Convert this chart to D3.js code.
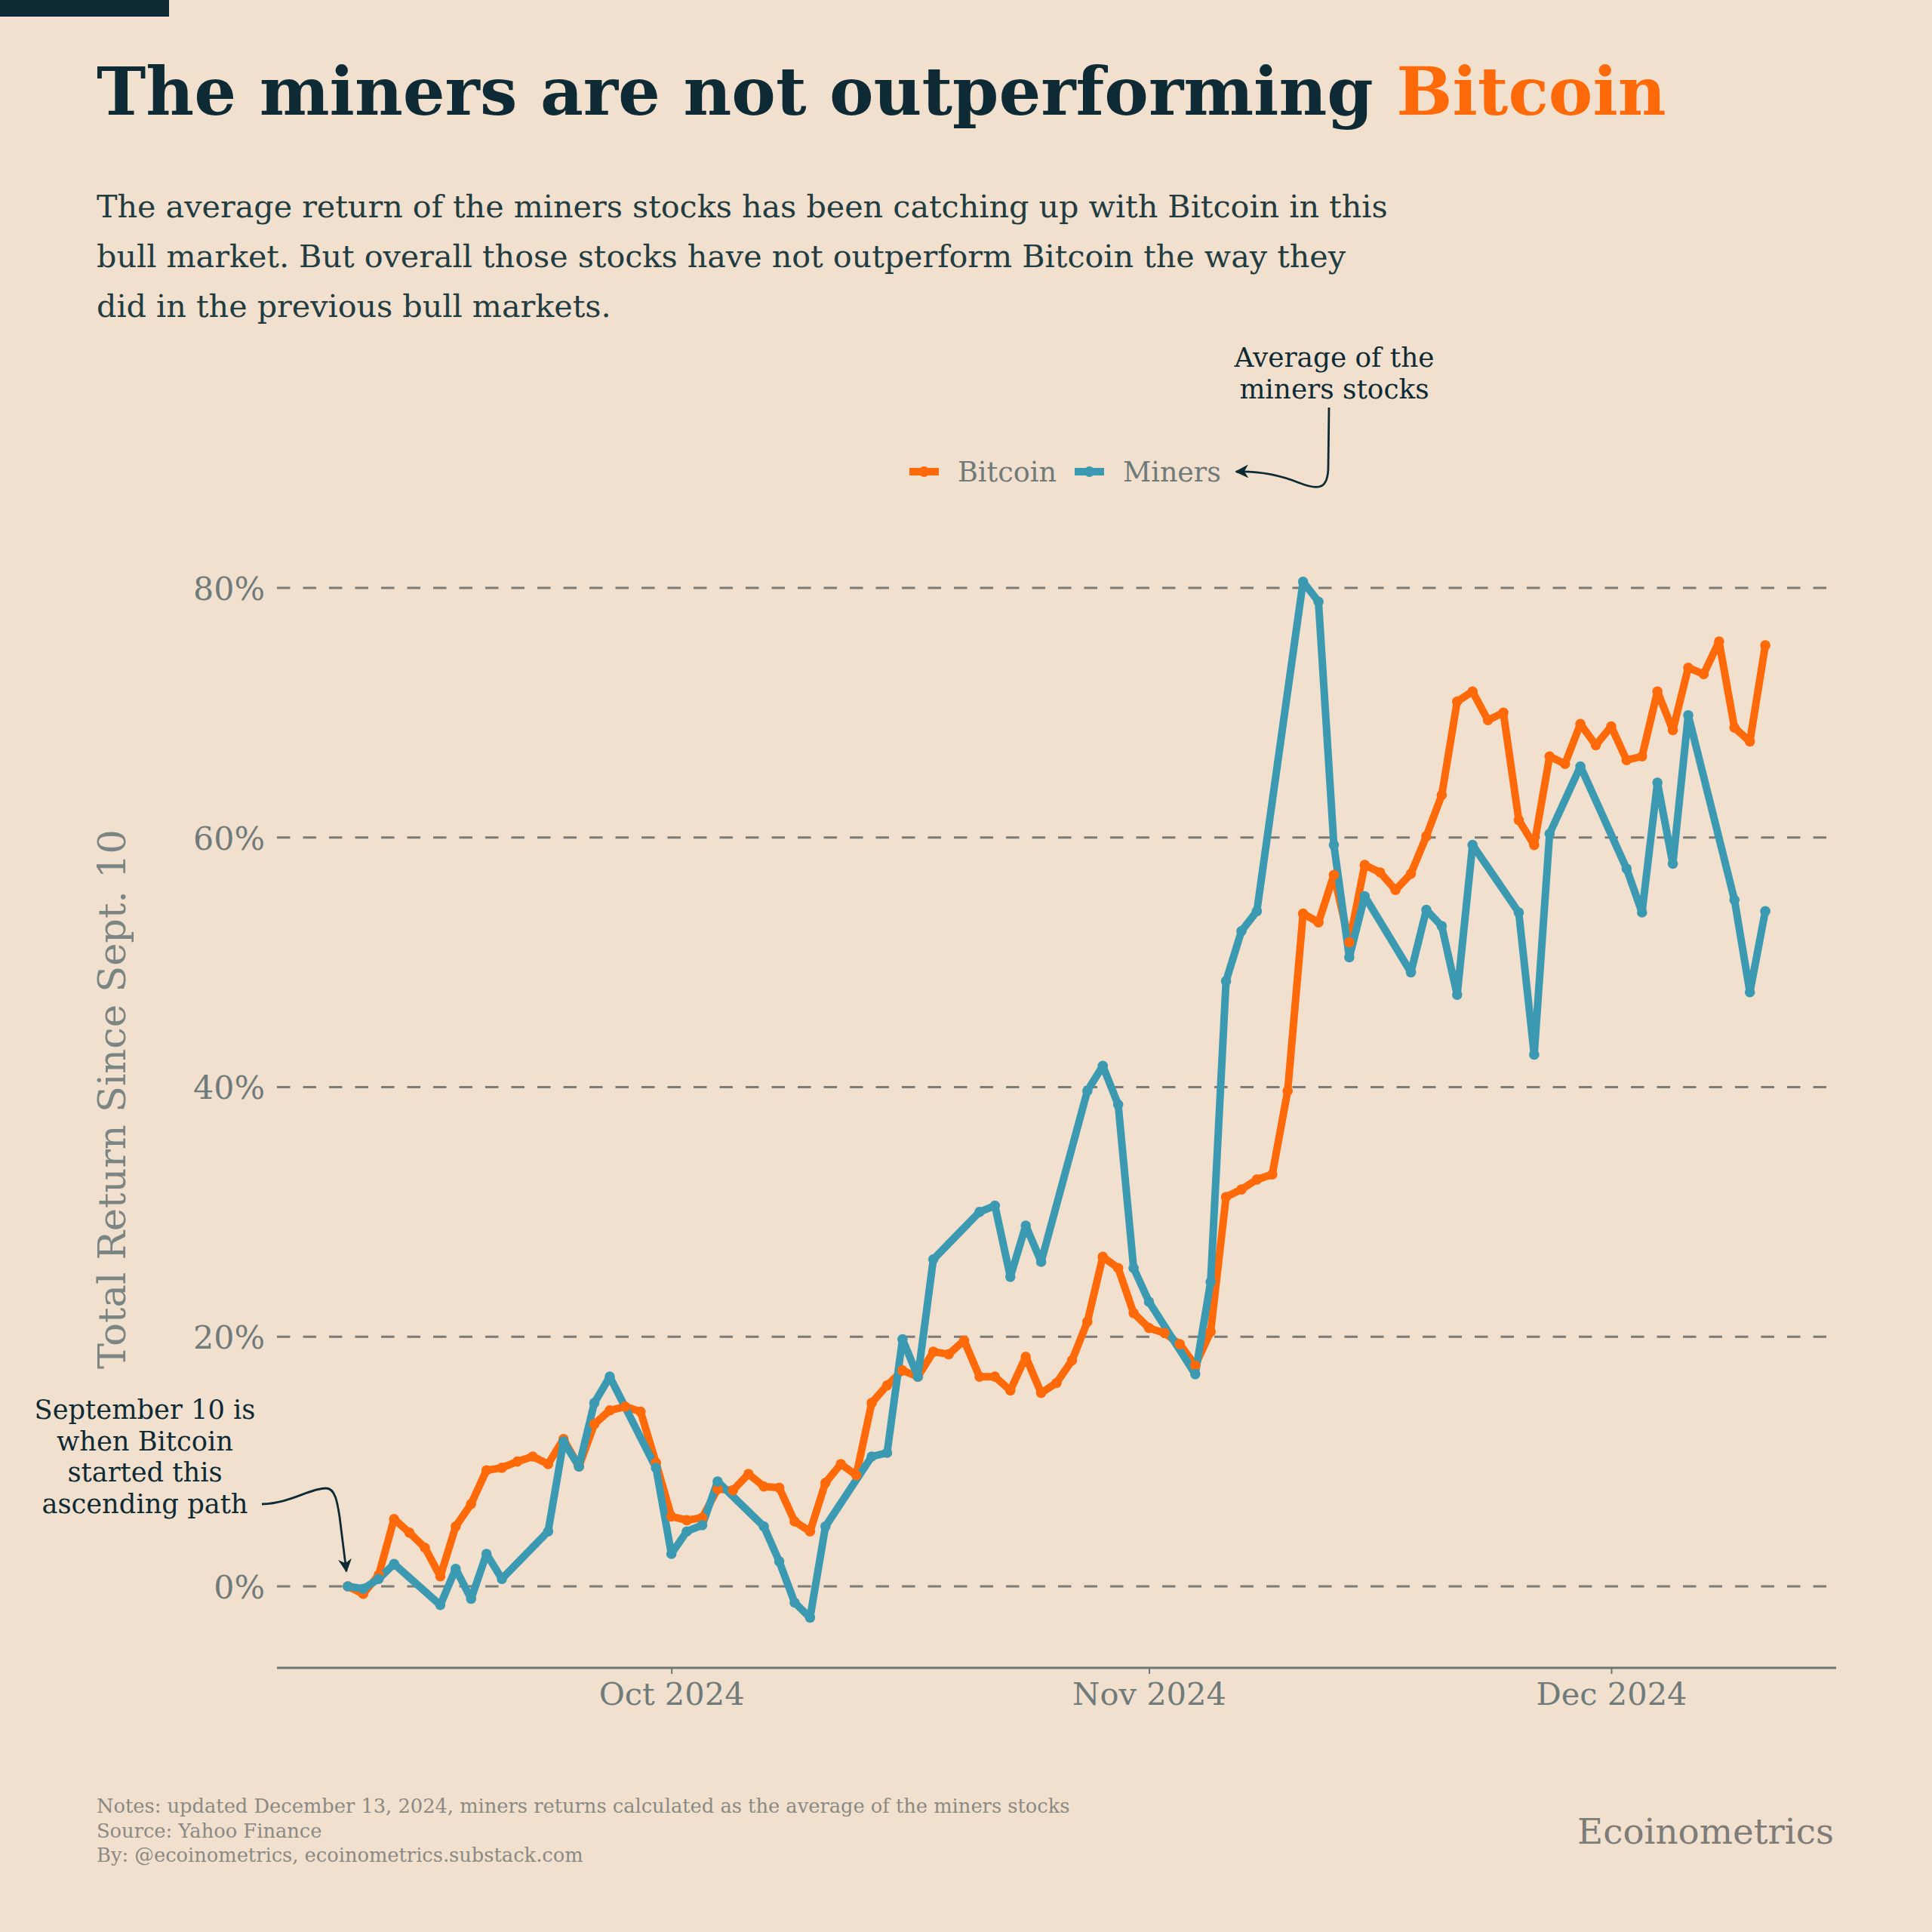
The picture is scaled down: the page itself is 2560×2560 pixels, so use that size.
<!DOCTYPE html>
<html><head><meta charset="utf-8">
<script src="https://cdn.jsdelivr.net/npm/d3@7"></script>
<style>html,body{margin:0;padding:0;background:#f2e0ce;} svg{display:block}</style>
</head><body>
<svg id="chart" width="2560" height="2560"></svg>
<script>
// ---------------- DATA ----------------
const btcStart = "2024-09-10";
const btcEnd = "2024-12-11";
const btcValues = [
  0, -0.6, 0.9, 5.4, 4.3, 3.1, 0.8, 4.8, 6.6, 9.3, 9.5, 10.0, 10.4, 9.8, 11.8, 9.6, 13.0, 14.1, 14.4, 14.0, 9.9,
  5.6, 5.3, 5.5, 7.8, 7.7, 9.0, 8.0, 7.9, 5.2, 4.4, 8.3, 9.8, 8.9, 14.7, 16.1, 17.3, 16.8, 18.8, 18.6, 19.7,
  16.8, 16.8, 15.7, 18.4, 15.5, 16.3, 18.1, 21.2, 26.4, 25.5, 21.9,
  20.7, 20.3, 19.4, 17.7, 20.4, 31.2, 31.8, 32.6, 33.0, 39.7, 53.9, 53.2, 57.0, 51.6, 57.8, 57.2, 55.8, 57.1, 60.1, 63.4,
  70.9, 71.7, 69.4, 70.0, 61.4, 59.4, 66.5, 65.9, 69.1, 67.4,
  68.9, 66.2, 66.5, 71.7, 68.6, 73.6, 73.1, 75.7, 68.8, 67.7, 75.4
];
const minersDates = [
  "2024-09-10","2024-09-11","2024-09-12","2024-09-13","2024-09-16","2024-09-17","2024-09-18","2024-09-19","2024-09-20",
  "2024-09-23","2024-09-24","2024-09-25","2024-09-26","2024-09-27","2024-09-30",
  "2024-10-01","2024-10-02","2024-10-03","2024-10-04","2024-10-07","2024-10-08","2024-10-09","2024-10-10","2024-10-11",
  "2024-10-14","2024-10-15","2024-10-16","2024-10-17","2024-10-18","2024-10-21","2024-10-22","2024-10-23","2024-10-24","2024-10-25",
  "2024-10-28","2024-10-29","2024-10-30","2024-10-31","2024-11-01",
  "2024-11-04","2024-11-05","2024-11-06","2024-11-07","2024-11-08","2024-11-11","2024-11-12","2024-11-13","2024-11-14","2024-11-15",
  "2024-11-18","2024-11-19","2024-11-20","2024-11-21","2024-11-22","2024-11-25","2024-11-26","2024-11-27","2024-11-29",
  "2024-12-02","2024-12-03","2024-12-04","2024-12-05","2024-12-06","2024-12-09","2024-12-10","2024-12-11"
];
const minersValues = [
  0, -0.2, 0.6, 1.8, -1.5, 1.4, -1.0, 2.6, 0.6,
  4.4, 11.6, 9.6, 14.7, 16.8, 9.5,
  2.6, 4.4, 4.9, 8.4, 4.8, 2.0, -1.3, -2.5, 4.8,
  10.4, 10.7, 19.8, 16.8, 26.2, 30.0, 30.5, 24.8, 28.9, 26.0,
  39.7, 41.7, 38.6, 25.5, 22.8,
  17.0, 24.4, 48.5, 52.5, 54.1, 80.5, 78.9, 59.4, 50.4, 55.3,
  49.2, 54.2, 52.9, 47.4, 59.4, 54.0, 42.6, 60.3, 65.7,
  57.5, 54.0, 64.4, 57.9, 69.8, 55.0, 47.6, 54.1
];
const yTicks = [0, 20, 40, 60, 80];
const xTickDates = ["2024-10-01", "2024-11-01", "2024-12-01"];
const xTickLabels = ["Oct 2024", "Nov 2024", "Dec 2024"];
const seriesNames = ["Bitcoin", "Miners"];
const seriesColors = ["#fe6a0a", "#3b9ab2"];

const titleText = ["The miners are not outperforming ", "Bitcoin"];
const subtitleLines = [
  "The average return of the miners stocks has been catching up with Bitcoin in this",
  "bull market. But overall those stocks have not outperform Bitcoin the way they",
  "did in the previous bull markets."
];
const yTitle = "Total Return Since Sept. 10";
const annTop = ["Average of the", "miners stocks"];
const annLeft = ["September 10 is", "when Bitcoin", "started this", "ascending path"];
const footerLines = [
  "Notes: updated December 13, 2024, miners returns calculated as the average of the miners stocks",
  "Source: Yahoo Finance",
  "By: @ecoinometrics, ecoinometrics.substack.com"
];
const brand = "Ecoinometrics";

// ---------------- SETUP ----------------
const FONT = "Georgia, 'DejaVu Serif', serif";
const DARK = "#0e2a35";
const GREY = "#6f7b7a";
const parse = d3.utcParse("%Y-%m-%d");
const svg = d3.select("#chart");
svg.append("rect").attr("width", 2560).attr("height", 2560).attr("fill", "#f2e0ce");
svg.append("rect").attr("x", 0).attr("y", 0).attr("width", 224).attr("height", 22).attr("fill", DARK);

function fit(sel, w) {
  const cur = parseFloat(sel.attr("font-size"));
  const len = sel.node().getComputedTextLength();
  const fs = cur * w / len;
  sel.attr("font-size", fs);
  return fs;
}

const btcDates = d3.utcDay.range(parse(btcStart), d3.utcDay.offset(parse(btcEnd), 1));
const btc = btcDates.map((d, i) => ({date: d, value: btcValues[i]}));
const miners = minersDates.map((d, i) => ({date: parse(d), value: minersValues[i]}));

const d0 = parse(btcStart), d1 = parse(btcEnd);
const span = d1 - d0;
const x = d3.scaleUtc()
  .domain([new Date(+d0 - span * 0.05), new Date(+d1 + span * 0.05)])
  .range([367, 2433]);
const y = d3.scaleLinear().domain([0, 80]).range([2102, 779]);
const yBottom = y(-6.53);

// ---------------- TITLE ----------------
const title = svg.append("text").attr("x", 128).attr("y", 152)
  .attr("font-family", FONT).attr("font-weight", "bold").attr("font-size", 100).attr("fill", DARK);
title.append("tspan").text(titleText[0]);
title.append("tspan").attr("fill", "#fe6a0a").text(titleText[1]);
fit(title, 2080);

const subG = svg.append("g");
const subs = subtitleLines.map((t, i) => subG.append("text")
  .attr("x", 128).attr("y", 288 + i * 66)
  .attr("font-family", FONT).attr("font-size", 44).attr("fill", "#223d42").text(t));
const subFs = fit(subs[0], 1711);
subs.forEach(s => s.attr("font-size", subFs));

// ---------------- GRID & AXES ----------------
const grid = svg.append("g");
grid.selectAll("line").data(yTicks).join("line")
  .attr("x1", 367).attr("x2", 2433)
  .attr("y1", d => y(d)).attr("y2", d => y(d))
  .attr("stroke", "#7b7b78").attr("stroke-width", 3.2)
  .attr("stroke-dasharray", "17.5,17");

const yAxis = svg.append("g").attr("transform", "translate(351,0)")
  .call(d3.axisLeft(y).tickValues(yTicks).tickSize(0).tickPadding(0).tickFormat(d => d + "%"));
yAxis.select(".domain").remove();
yAxis.selectAll("text").attr("font-family", FONT).attr("font-size", 44).attr("fill", GREY).attr("dy", "0.36em");
const yLab80 = yAxis.selectAll("text").filter(d => d === 80);
const yFs = fit(yLab80, 95);
yAxis.selectAll("text").attr("font-size", yFs);

const xAxis = svg.append("g").attr("transform", `translate(0,${yBottom})`)
  .call(d3.axisBottom(x).tickValues(xTickDates.map(parse)).tickSize(8).tickPadding(12)
    .tickFormat((d, i) => xTickLabels[i]));
xAxis.select(".domain").attr("stroke", "#6b7873").attr("stroke-width", 3)
  .attr("d", `M367,0H2433`);
xAxis.selectAll(".tick line").attr("stroke", "#6b7873").attr("stroke-width", 2);
xAxis.selectAll("text").attr("font-family", FONT).attr("font-size", 44).attr("fill", GREY).attr("dy", "0.71em");
const xFs = fit(d3.select(xAxis.selectAll("text").nodes()[0]), 193);
xAxis.selectAll("text").attr("font-size", xFs);

const yt = svg.append("text")
  .attr("transform", `translate(166,${(y(84.6) + yBottom) / 2}) rotate(-90)`)
  .attr("text-anchor", "middle").attr("font-family", FONT).attr("font-size", 50)
  .attr("fill", "#7b8583").text(yTitle);
fit(yt, 715);

// ---------------- LINES ----------------
const line = d3.line().x(d => x(d.date)).y(d => y(d.value));
const series = [btc, miners];
series.forEach((s, i) => {
  svg.append("path").datum(s).attr("d", line).attr("fill", "none")
    .attr("stroke", seriesColors[i]).attr("stroke-width", 10)
    .attr("stroke-linejoin", "round").attr("stroke-linecap", "round");
});
series.forEach((s, i) => {
  svg.append("g").selectAll("circle").data(s).join("circle")
    .attr("cx", d => x(d.date)).attr("cy", d => y(d.value)).attr("r", 6.8)
    .attr("fill", seriesColors[i]);
});

// ---------------- LEGEND ----------------
const legendX = [1205, 1424];
const leg = svg.append("g");
seriesNames.forEach((n, i) => {
  const g = leg.append("g").attr("transform", `translate(${legendX[i]},625)`);
  g.append("line").attr("x1", 0).attr("x2", 39).attr("y1", 0).attr("y2", 0)
    .attr("stroke", seriesColors[i]).attr("stroke-width", 10);
  g.append("circle").attr("cx", 19.5).attr("cy", 0).attr("r", 7).attr("fill", seriesColors[i]);
  const t = g.append("text").attr("x", 64).attr("y", 0).attr("dy", "0.35em")
    .attr("font-family", FONT).attr("font-size", 40).attr("fill", GREY).text(n);
  fit(t, i === 0 ? 131 : 130);
});

// ---------------- ANNOTATIONS ----------------
const defs = svg.append("defs");
defs.append("marker").attr("id", "arrow").attr("viewBox", "0 0 10 10")
  .attr("refX", 9).attr("refY", 5)
  .attr("markerUnits", "userSpaceOnUse").attr("orient", "auto")
  .attr("markerWidth", 18).attr("markerHeight", 18)
  .append("path").attr("d", "M0,0 L10,5 L0,10 L3,5 Z").attr("fill", DARK);

const aTop = annTop.map((t, i) => svg.append("text").attr("x", 1768).attr("y", 486 + i * 42)
  .attr("text-anchor", "middle").attr("font-family", FONT).attr("font-size", 40)
  .attr("fill", DARK).text(t));
const aTopFs = fit(aTop[0], 265);
aTop.forEach(t => t.attr("font-size", aTopFs));
svg.append("path")
  .attr("d", "M1761,540 L1760,618 C1760,648 1748,650 1722,640 C1695,629 1668,624 1638,625")
  .attr("fill", "none").attr("stroke", DARK).attr("stroke-width", 2.8).attr("marker-end", "url(#arrow)");

const aLeft = annLeft.map((t, i) => svg.append("text").attr("x", 192).attr("y", 1880 + i * 41.7)
  .attr("text-anchor", "middle").attr("font-family", FONT).attr("font-size", 40)
  .attr("fill", DARK).text(t));
const aLeftFs = fit(aLeft[0], 293);
aLeft.forEach(t => t.attr("font-size", aLeftFs));
svg.append("path")
  .attr("d", "M347,1993 C385,1992 410,1972 432,1972 C444,1972 447,1990 450,2010 L459,2082")
  .attr("fill", "none").attr("stroke", DARK).attr("stroke-width", 2.8).attr("marker-end", "url(#arrow)");

// ---------------- FOOTER ----------------
const foot = footerLines.map((t, i) => svg.append("text").attr("x", 128).attr("y", 2402 + i * 32.5)
  .attr("font-family", FONT).attr("font-size", 28).attr("fill", "#8a8984").text(t));
const fFs = fit(foot[0], 1290);
foot.forEach(t => t.attr("font-size", fFs));

const br = svg.append("text").attr("x", 2430).attr("y", 2443).attr("text-anchor", "end")
  .attr("font-family", FONT).attr("font-size", 52).attr("fill", "#7d7c78").text(brand);
fit(br, 340);
</script>
</body></html>
